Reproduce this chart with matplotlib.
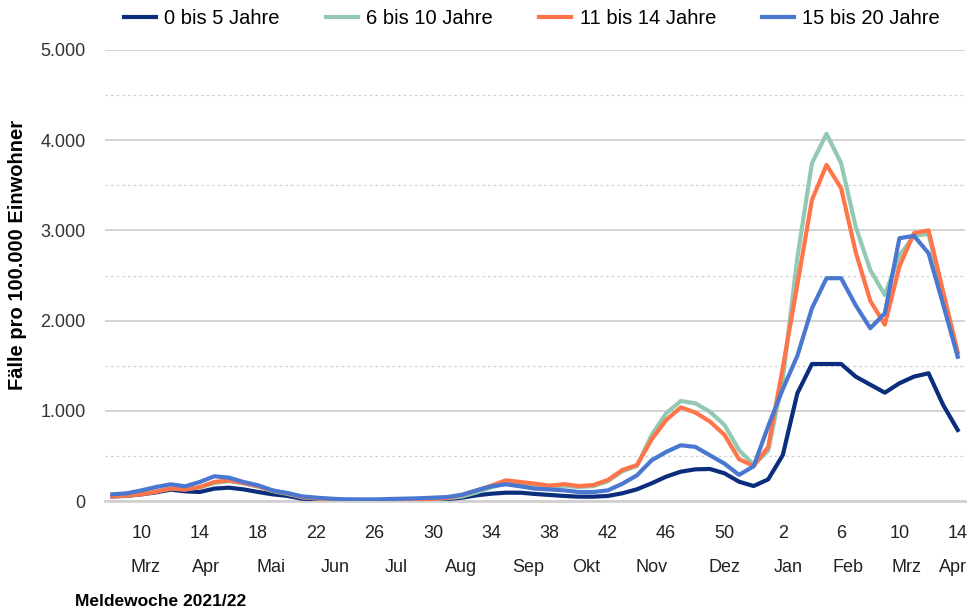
import matplotlib
matplotlib.use("Agg")
import matplotlib.pyplot as plt
from matplotlib.ticker import MultipleLocator

plt.rcParams['font.family'] = ['Liberation Sans', 'DejaVu Sans']

# Reporting weeks 2021 wk 8 .. 2022 wk 14
weeks = list(range(8, 53)) + list(range(1, 15))

series_names = ["0 bis 5 Jahre", "6 bis 10 Jahre", "11 bis 14 Jahre", "15 bis 20 Jahre"]

age_0_5 = [50, 57, 74, 96, 126, 107, 100, 137, 148, 129, 100, 74, 57, 26, 18,
           12, 10, 8, 8, 10, 12, 15, 18, 22, 37, 63, 81, 92, 92, 78,
           67, 56, 48, 48, 56, 86, 130, 196, 270, 325, 351, 355, 307, 214, 166,
           240, 510, 1195, 1519, 1519, 1519, 1379, 1290, 1201, 1305, 1379, 1416, 1065, 787]

age_6_10 = [55, 62, 78, 105, 140, 130, 150, 200, 220, 195, 160, 110, 80, 42, 28,
            18, 12, 10, 8, 10, 14, 18, 22, 30, 50, 95, 150, 200, 200, 180,
            160, 170, 155, 165, 220, 330, 390, 731, 972, 1109, 1083, 990, 843, 565, 400,
            560, 1350, 2700, 3745, 4070, 3745, 3042, 2562, 2285, 2720, 2940, 2960, 2280, 1600]

age_11_14 = [50, 61, 74, 104, 137, 126, 155, 211, 229, 200, 163, 115, 85, 45, 30,
             20, 12, 10, 8, 10, 15, 20, 25, 35, 67, 118, 170, 229, 211, 192,
             170, 187, 166, 177, 233, 344, 399, 683, 898, 1038, 981, 881, 733, 463, 388,
             600, 1480, 2400, 3338, 3726, 3468, 2760, 2220, 1955, 2600, 2970, 3000, 2320, 1650]

age_15_20 = [74, 85, 118, 155, 185, 163, 211, 274, 259, 211, 174, 118, 89, 52, 37,
             26, 18, 18, 18, 22, 26, 30, 37, 44, 70, 118, 163, 185, 163, 137,
             128, 118, 100, 100, 118, 192, 285, 451, 544, 618, 600, 507, 414, 290, 385,
             830, 1240, 1610, 2137, 2470, 2470, 2170, 1915, 2081, 2913, 2940, 2747, 2180, 1600]

month_labels = ["Mrz", "Apr", "Mai", "Jun", "Jul", "Aug", "Sep", "Okt", "Nov", "Dez",
                "Jan", "Feb", "Mrz", "Apr"]
# layout: x position (week index) of month labels
month_pos = [2.3, 6.4, 10.9, 15.3, 19.5, 23.9, 28.5, 32.5, 37.0, 42.0, 46.4, 50.5, 54.5, 57.7]

colors = ["#0a2d7c", "#93c8b2", "#ff7448", "#4a78d0"]

fig = plt.figure(figsize=(9.7, 6.12), dpi=100)
ax = fig.add_axes([105/970, 1-501/612, 860/970, 451/612])

x = list(range(len(weeks)))
for name, vals, c in zip(series_names, [age_0_5, age_6_10, age_11_14, age_15_20], colors):
    ax.plot(x, vals, color=c, lw=3.0, label=name, solid_joinstyle='round', zorder=3)

ax.set_xlim(-0.5, len(weeks) - 0.5)
ax.set_ylim(0, 5000)

# y grid
ax.yaxis.set_major_locator(MultipleLocator(1000))
ax.yaxis.set_minor_locator(MultipleLocator(500))
ax.grid(axis='y', which='major', color='#c8c8c8', lw=1.1, ls='-', zorder=0)
ax.grid(axis='y', which='minor', color='#cfcfcf', lw=0.9, ls=(0, (2, 2.5)), zorder=0)
ax.set_yticks(range(0, 5001, 1000))
ax.set_yticklabels([f"{v:,}".replace(",", ".") for v in range(0, 5001, 1000)], fontsize=13, color='#333333')
ax.tick_params(axis='y', which='both', length=0, pad=14)

tick_idx = list(range(2, len(weeks), 4))
ax.set_xticks(tick_idx)
ax.set_xticklabels([str(weeks[i]) for i in tick_idx], fontsize=13, color='#222222')
ax.tick_params(axis='x', length=0, pad=17)

for s in ['top', 'right', 'left']:
    ax.spines[s].set_visible(False)
ax.spines['bottom'].set_color('#d0d0d0')
ax.spines['bottom'].set_linewidth(2.0)

for lab, pos in zip(month_labels, month_pos):
    ax.annotate(lab, xy=(pos, 0), xycoords=('data', 'axes fraction'),
                xytext=(0, -66), textcoords='offset pixels',
                ha='center', va='center', fontsize=13, color='#222222',
                annotation_clip=False)

fig.text(18/970, 1-255/612, "Fälle pro 100.000 Einwohner", rotation=90,
         ha='center', va='center', fontsize=14.5, fontweight='bold')
fig.text(75/970, 1-601/612, "Meldewoche 2021/22", ha='left', va='center',
         fontsize=12.5, fontweight='bold')

fig.legend(loc='center', bbox_to_anchor=(532/970, 1-19/612), ncol=4, frameon=False,
           fontsize=14.5, handlelength=1.6, handletextpad=0.4, columnspacing=2.3)

fig.savefig("out.png", dpi=100)
